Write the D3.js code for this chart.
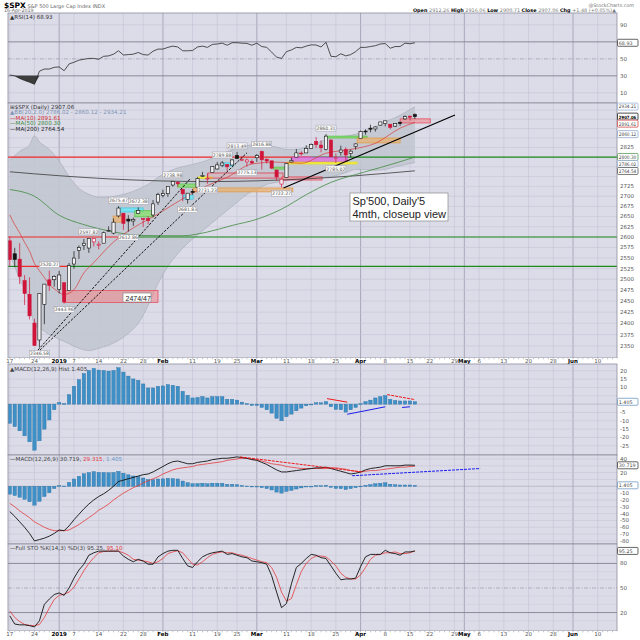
<!DOCTYPE html>
<html>
<head>
<meta charset="utf-8">
<script src="https://cdn.jsdelivr.net/npm/d3@7/dist/d3.min.js"></script>
<style>
  body { margin: 0; background: #fff; }
  svg { display: block; }
</style>
</head>
<body>
<div id="chart"></div>
<script>
// ---- data: $SPX daily, 17 Dec 2018 .. 16 Apr 2019 ----
const holidays = ["2018-12-25", "2019-01-01", "2019-01-21", "2019-02-18", "2019-04-19", "2019-05-27"];
const prevClose = 2599.95;

const opens = [2590.75,2559.90,2547.05,2496.77,2465.38,2400.56,2363.12,2442.50,2498.77,2498.94,
  2476.96,2491.92,2474.33,2535.61,2568.11,2580.00,2573.51,2588.11,2580.31,2585.10,
  2614.75,2609.28,2651.27,2657.88,2643.48,2638.84,2657.44,2644.97,2644.89,2653.62,
  2685.49,2702.32,2706.49,2728.34,2735.05,2717.53,2692.36,2712.40,2722.61,2750.30,
  2743.50,2760.24,2769.28,2779.05,2780.67,2779.50,2804.35,2792.36,2787.50,2788.11,
  2798.22,2814.37,2794.41,2790.27,2766.53,2730.79,2747.61,2787.34,2799.78,2810.38,
  2810.79,2822.61,2840.76,2831.34,2819.72,2844.52,2796.01,2812.66,2819.72,2809.40,
  2828.27,2848.63,2868.24,2876.09,2873.99,2884.16,2888.46,2886.58,2881.37,2891.92,
  2900.86,2908.32,2912.26];
const highs = [2601.13,2573.99,2585.29,2509.63,2504.41,2410.34,2467.76,2489.10,2520.27,2509.24,
  2519.49,2493.14,2538.07,2566.16,2579.82,2595.32,2597.82,2596.27,2589.32,2613.08,
  2625.76,2645.06,2675.47,2657.88,2653.19,2647.20,2672.38,2644.97,2650.93,2690.44,
  2708.95,2716.66,2724.99,2738.98,2738.08,2719.32,2708.07,2718.05,2748.19,2761.85,
  2757.90,2775.66,2787.33,2789.88,2781.58,2794.20,2813.49,2803.12,2795.76,2793.73,
  2808.02,2816.88,2796.44,2790.27,2767.25,2744.13,2784.00,2798.32,2821.24,2815.00,
  2830.73,2835.41,2852.42,2843.54,2860.31,2846.16,2809.79,2829.87,2825.56,2819.71,
  2836.03,2869.40,2872.90,2885.25,2881.28,2893.24,2895.95,2886.88,2889.71,2893.42,
  2910.54,2909.60,2916.06];
const lows = [2530.54,2528.71,2488.96,2441.18,2408.55,2351.10,2346.58,2397.94,2472.89,2482.82,
  2467.47,2443.96,2474.33,2524.56,2547.56,2568.89,2562.02,2577.40,2570.41,2585.10,
  2612.68,2606.36,2647.58,2617.27,2612.86,2627.01,2657.33,2624.06,2631.05,2648.34,
  2678.65,2696.88,2698.75,2724.03,2724.15,2687.26,2681.83,2703.79,2722.61,2748.63,
  2731.23,2760.24,2767.29,2774.06,2764.55,2779.11,2794.99,2789.47,2775.13,2782.51,
  2787.38,2767.66,2782.97,2768.69,2739.09,2722.27,2747.61,2786.73,2799.78,2803.46,
  2810.79,2821.99,2823.27,2812.43,2817.38,2800.47,2785.02,2803.99,2787.72,2798.77,
  2819.23,2848.63,2858.75,2865.17,2867.14,2882.99,2880.78,2873.33,2879.13,2881.99,
  2898.37,2896.48,2900.71];
const closes = [2545.94,2546.16,2506.96,2467.42,2416.62,2351.10,2467.70,2488.83,2485.74,2506.85,
  2510.03,2447.89,2531.94,2549.69,2574.41,2584.96,2596.64,2596.26,2582.61,2610.30,
  2616.10,2635.96,2670.71,2632.90,2638.70,2642.33,2664.76,2643.85,2640.00,2681.05,
  2704.10,2706.53,2724.87,2737.70,2731.61,2706.05,2707.88,2709.80,2744.73,2753.03,
  2745.73,2775.60,2779.76,2784.70,2774.88,2792.67,2796.11,2793.90,2792.38,2784.49,
  2803.69,2792.81,2789.65,2771.45,2748.93,2743.07,2783.30,2791.52,2810.92,2808.48,
  2822.48,2832.94,2832.57,2824.23,2854.88,2800.71,2798.36,2818.46,2805.37,2815.44,
  2834.40,2867.19,2867.24,2873.40,2879.39,2892.74,2895.77,2878.20,2888.21,2888.32,
  2907.41,2905.58,2907.06];

// overlays (session index -> value)
const bbDays = [0,2,4,5,6,8,10,12,14,16,18,20,22,24,26,28,30,32,34,36,38,40,42,44,46,48,50,52,54,56,58,60,62,64,66,68,70,72,74,76,78,80,82];
const bbUpper = [2792,2815,2832,2856,2840,2820,2790,2750,2720,2705,2698,2698,2702,2708,2718,2730,2748,2762,2772,2778,2784,2792,2804,2814,2824,2830,2833,2830,2826,2820,2820,2826,2836,2846,2852,2855,2860,2870,2880,2893,2904,2918,2934.21];
const bbLower = [2560,2500,2448,2396,2390,2375,2365,2355,2345,2340,2345,2352,2362,2378,2400,2440,2490,2530,2560,2585,2605,2625,2645,2665,2685,2705,2718,2730,2735,2740,2744,2746,2746,2748,2752,2760,2768,2768,2766,2768,2775,2780,2786.02];
const ma10Days = [0,1,2,3,4,5,6,7,8,9,11,13,15,17,21,25,30,35,40,44,49,54,59,64,69,74,79,82];
const ma10 = [2654,2630,2610,2587,2566,2537,2520,2504,2488,2478,2465,2476,2515,2539,2588,2622,2656,2694,2727,2748,2782,2787,2784,2810,2820,2836,2876,2891.61];
const ma50Days = [0,5,10,15,20,25,30,35,40,45,50,55,60,65,70,75,80,82];
const ma50 = [2717,2700,2653,2630,2615,2605,2603,2603,2612,2628,2643,2668,2704,2735,2755,2773,2792,2800.30];
const ma200Days = [0,10,20,30,40,50,60,70,82];
const ma200 = [2762,2752,2744,2739,2737,2739,2744,2752,2764.54];

const rsiVals = [31,30,27,24.5,22.5,20,35.5,38,38,40,40.5,36,44,46,48.5,49.5,50.5,50.5,49.5,53,
  53.5,55.5,59.5,54.5,55,55.5,57.5,55,54.5,59,61.5,61.5,63.5,65,64,59.5,59.5,59.8,64,65,
  63.5,67,67.5,68.5,66,69,69,68.5,68.2,66,68.5,64.5,63.5,58,52,50.5,58.5,60.5,63.5,63,
  65,66.5,66.3,64,69.5,53,52.5,56,53.5,55,58.5,63.5,63.5,64.5,65.5,67.5,68,62.5,64.5,64.5,
  68.5,67.8,68.93];
const macdLine = [-37,-44,-52,-60,-69,-80,-78,-76,-73,-69,-64,-65,-58,-49,-41,-33,-26,-20,-15,-11,
  -6,0,7,9,11,13,15,17,18,21,25,29,33,36,37,35,33,33,35,36,
  37,39,40,41,41,42,43,42,41,39,38,35,32,28,24,21,21,22,23,24,
  25,26,27,27,28,26,24,22,20,18,19,21,24,26,27,28,30,30,30,30,
  31,31,30.719];
const macdSignal = [-25,-30,-36,-41,-46,-52,-56,-60,-63,-65,-65,-65,-64,-60,-56,-51,-46,-41,-35,-31,
  -26,-20,-15,-10,-6,-2,1,5,8,11,14,18,21,24,26,27,28,29,31,32,
  33,34,35,36,38,39,40,41,41,40,39,37,35,33,32,31,29,28,27,26,
  26,26,26,26,26,27,27,26,25,23,22,21,22,23,23,24,25,26,27,28,
  28,29,29.315];
const macdHist = [-11.5,-13.5,-16,-19,-22.6,-27.6,-22,-15,-9.5,-3.4,1,0.3,5.7,10.7,14.7,18.4,20.2,21.4,20.4,20.2,
  19.8,20.2,21.8,19.2,16.8,15.1,14.3,12.1,9.7,9.7,10.7,10.9,11.7,11.3,10.7,7.7,5.3,3.7,4,4.5,
  3.7,4.5,4.5,4.5,2.9,2.9,2.4,1.2,0.3,-0.8,-0.8,-2,-3.4,-5.4,-8.5,-10,-7.5,-6,-4,-2.4,
  -1,-0.1,0.8,0.8,1.5,-1.6,-3.2,-3.4,-4.8,-3.4,-2,0.2,1.5,2.4,3.7,4.5,5.1,2.9,2.2,1.9,
  1.9,1.9,1.405];
const stoK = [16,6,5,5,4,2.5,10,30,36.5,42,44,41,50,62,72,79,90,93,95,95,
  95,95,95,89,85,82,85,83,79,79,88,92,95,96,96,86,77,75,82,88,
  91,93,94,95,91,92,90,88,87,83,82,81,79,65,45,26,31,55,75,80,
  86,91,90,87,86,77,68,60,61,61,62,76,88,91,91,91,96,93,92,90,
  94,94,95.25];
const stoD = [22,14,9,5.5,4.5,4,5.5,14,25.5,36,41,42.5,45,51,61,71,80,87,93,94.5,
  95,95,95,93,90,85,84,83,82,80,82,86,92,94,95.5,93,86,79,78,82,
  87,91,93,94,93,93,91,90,88,86,84,82,81,75,63,45,34,37,54,70,
  80,86,89,89,88,83,77,68,63,61,61,66,75,85,90,91,93,93,94,92,
  92,93,95.1];

// hand-drawn annotations
const levelPrices = [2800, 2600, 2530];
const redSegFrom = [-0.4, -0.4, 2];
const redSegTo = [61, 25, 12.2];
const zoneFrom = [11.2, 21.9, 20.9, 25.3, 34, 35.1, 37.1, 38.1, 40.1, 43.2, 57.1, 56.1, 53.3, 55.1, 63.8, 70.3, 79];
const zoneTo = [30, 27, 23.3, 29, 37.9, 37.1, 57.3, 41, 55.3, 45.2, 68.3, 70.3, 56.3, 63.2, 72.3, 79, 85.1];
const zoneLow = [2447, 2661, 2636, 2649, 2723, 2693, 2711, 2746, 2746, 2777, 2787, 2782, 2769, 2741, 2850, 2837, 2890];
const zoneHigh = [2474, 2671, 2651, 2664, 2731, 2703, 2721, 2749, 2759, 2785, 2800, 2787, 2774, 2749, 2855, 2850, 2901];
const zoneKind = ["red","cyan","orange","green","green","cyan","orange","yellow","redline","cyan","magenta","yellow","green","red","green","orange","red"];
const trendFrom = [5.7, 6.1, 55.4];
const trendFromPrice = [2341, 2341, 2721];
const trendTo = [36.5, 48, 90.1];
const trendToPrice = [2744, 2811, 2911.5];
const trendDashed = [true, true, false];
const tagDay = [6, 11, 8, 16, 22, 26, 24, 33, 36, 43, 46, 51, 40, 48, 55, 64, 66];
const tagPrice = [2346.58, 2443.96, 2520.27, 2597.82, 2675.47, 2672.38, 2612.86, 2738.98, 2681.83, 2789.88, 2813.49, 2816.88, 2731.23, 2775.13, 2722.27, 2860.31, 2785.02];
const tagSide = ["below","below","above","above","above","above","below","above","below","above","above","above","below","below","below","above","below"];
const m1From = [64.2, 68.3, 76.4, 79.4], m1FromVal = [3.3, -6.1, 5.7, -2];
const m1To = [68.3, 76, 82, 81], m1ToVal = [1.2, -1.6, 2.7, -1.6];
const m1Kind = ["red", "blue", "reddash", "blue"];
const m2From = [46.6, 69.3], m2FromVal = [43, 15.4];
const m2To = [71.3, 95.2], m2ToVal = [21, 26];
const m2Kind = ["reddash", "bluedash"];

const tickDates = ["2018-12-17","2018-12-24","2019-01-02","2019-01-07","2019-01-14","2019-01-22","2019-01-28","2019-02-01","2019-02-11","2019-02-19","2019-02-25","2019-03-01","2019-03-11","2019-03-18","2019-03-25","2019-04-01","2019-04-08","2019-04-15","2019-04-22","2019-04-29","2019-05-01","2019-05-06","2019-05-13","2019-05-20","2019-05-28","2019-06-03","2019-06-10"];
const tickLabels = ["17","24","2019","7","14","22","28","Feb","11","19","25","Mar","11","18","25","Apr","8","15","22","29","May","6","13","20","28","Jun","10"];
const monthLabels = ["2019","Feb","Mar","Apr","May","Jun"];

// ---- layout ----
const W = 640, H = 640, L = 8, R = 617;
const BG = "#dcdce9";
const P = {
  rsi: { top: 13, bottom: 103 },
  main: { top: 103, bottom: 358 },
  macd: { top: 364, bottom: 455 },
  macd2: { top: 455, bottom: 544 },
  sto: { top: 544, bottom: 631 }
};

const svg = d3.select("#chart").append("svg")
  .attr("width", W).attr("height", H)
  .style("font-family", "'DejaVu Sans', Verdana, sans-serif");

const fmtDay = d3.utcFormat("%Y-%m-%d");
const sessions = d3.utcDays(new Date(Date.UTC(2018, 11, 17)), new Date(Date.UTC(2019, 5, 15)))
  .filter(d => d.getUTCDay() !== 0 && d.getUTCDay() !== 6)
  .map(fmtDay)
  .filter(s => !holidays.includes(s));
const dayIndex = new Map(sessions.map((s, i) => [s, i]));

const x = d3.scaleLinear().domain([-0.36, 122.9]).range([L, R]);

function hline(g, y, color, w, dash, x1, x2) {
  g.append("line")
    .attr("x1", x1 === undefined ? L : x1).attr("x2", x2 === undefined ? R : x2)
    .attr("y1", y).attr("y2", y)
    .attr("stroke", color).attr("stroke-width", w)
    .attr("stroke-dasharray", dash || null);
}

function drawPanel(p, id) {
  svg.append("clipPath").attr("id", id).append("rect")
    .attr("x", L).attr("y", p.top).attr("width", R - L).attr("height", p.bottom - p.top);
  svg.append("rect").attr("x", L).attr("y", p.top).attr("width", R - L)
    .attr("height", p.bottom - p.top).attr("fill", BG);
  const g = svg.append("g").attr("clip-path", `url(#${id})`);
  tickDates.forEach((d, k) => {
    const xx = x(dayIndex.get(d));
    const isMonth = monthLabels.includes(tickLabels[k]);
    g.append("line").attr("x1", xx).attr("x2", xx).attr("y1", p.top).attr("y2", p.bottom)
      .attr("stroke", isMonth ? "#a2a2b4" : "#c3c3d3").attr("stroke-width", isMonth ? 0.9 : 0.6);
  });
  return g;
}

function border(p) {
  svg.append("rect").attr("x", L).attr("y", p.top).attr("width", R - L)
    .attr("height", p.bottom - p.top).attr("fill", "none")
    .attr("stroke", "#8c8c9c").attr("stroke-width", 0.8);
}

// value boxes first work out their places, then axis labels skip what a box covers
function placeBoxes(items) {
  items.sort((a, b) => a.y - b.y);
  let last = -1e9;
  items.forEach(it => { it.yy = Math.max(it.y, last + 7); last = it.yy; });
  return items;
}

function axisLabels(y, values, boxes) {
  values.forEach(v => {
    const yy = y(v);
    if (boxes.some(b => Math.abs(b.yy - yy) < 6)) return;
    svg.append("text").attr("x", 620).attr("y", yy + 2)
      .attr("font-size", 5.5).attr("fill", "#555").text(v);
  });
}

function drawBoxes(items) {
  items.forEach(it => {
    svg.append("rect").attr("x", 617.5).attr("y", it.yy - 3.5).attr("width", 20.5).attr("height", 7)
      .attr("fill", "#fff").attr("stroke", it.color).attr("stroke-width", 0.7).attr("rx", 1);
    const t = svg.append("text").attr("x", 618.8).attr("y", it.yy + 1.9)
      .attr("font-size", it.bold ? 4.4 : 4.8)
      .attr("font-weight", it.bold ? "bold" : null)
      .attr("fill", it.bold ? "#000" : "#444").text(it.text);
    if (it.text.length > 6) t.attr("textLength", 17.5).attr("lengthAdjust", "spacingAndGlyphs");
  });
}

function rightAxis(y, values, items) {
  const boxes = placeBoxes(items);
  axisLabels(y, values, boxes);
  drawBoxes(boxes);
}

function dateAxis(top) {
  svg.append("rect").attr("x", L).attr("y", top).attr("width", R - L).attr("height", 6).attr("fill", "#fff");
  sessions.forEach((s, i) => {
    if (x(i) < L || x(i) > R) return;
    svg.append("line").attr("x1", x(i)).attr("x2", x(i)).attr("y1", top).attr("y2", top + 1.3)
      .attr("stroke", "#888").attr("stroke-width", 0.5);
  });
  tickDates.forEach((d, k) => {
    const isMonth = monthLabels.includes(tickLabels[k]);
    svg.append("text").attr("x", x(dayIndex.get(d))).attr("y", top + 5.3)
      .attr("text-anchor", "middle").attr("font-size", 5.5)
      .attr("font-weight", isMonth ? "bold" : null)
      .attr("fill", isMonth ? "#000" : "#555").text(tickLabels[k]);
  });
}

function legend(y, parts) {
  const t = svg.append("text").attr("x", 10).attr("y", y).attr("font-size", 5.6);
  parts.forEach(p => t.append("tspan").attr("fill", p[1]).attr("font-weight", p[2] ? "bold" : null).text(p[0]));
}

// ---- header ----
const h1 = svg.append("text").attr("x", 4).attr("y", 7.5);
h1.append("tspan").attr("font-size", 7.5).attr("font-weight", "bold").attr("fill", "#000").text("$SPX");
h1.append("tspan").attr("font-size", 5).attr("fill", "#666").text(" S&P 500 Large Cap Index INDX");
svg.append("text").attr("x", 4).attr("y", 12.3).attr("font-size", 4.8).attr("fill", "#666").text("16-Apr-2019");
svg.append("text").attr("x", 634).attr("y", 6.5).attr("text-anchor", "end").attr("font-size", 4.8)
  .attr("fill", "#777").text("@StockCharts.com");
const h2 = svg.append("text").attr("x", 616).attr("y", 12.3).attr("text-anchor", "end").attr("font-size", 4.9);
[["Open ", true], ["2912.26 ", false], ["High ", true], ["2916.06 ", false], ["Low ", true], ["2900.71 ", false],
 ["Close ", true], ["2907.06 ", false], ["Chg ", true], ["+1.48 (+0.05%)\u25B2", false]]
  .forEach(p => h2.append("tspan").attr("font-weight", p[1] ? "bold" : null).attr("fill", p[1] ? "#000" : "#777").text(p[0]));

// ---- RSI panel ----
const rsiY = d3.scaleLinear().domain([-2, 104]).range([P.rsi.bottom, P.rsi.top]);
const gR = drawPanel(P.rsi, "clipRsi");
[90, 10].forEach(v => hline(gR, rsiY(v), "#c3c3d3", 0.6));
hline(gR, rsiY(50), "#9a9aaa", 0.7, "4,1.5,1,1.5");
[70, 30].forEach(v => hline(gR, rsiY(v), "#8a8a9a", 1));
const rsiPts = rsiVals.map((v, i) => [i, v]);
gR.append("path").datum(rsiPts)
  .attr("d", d3.area().x(d => x(d[0])).y0(rsiY(30)).y1(d => rsiY(Math.min(d[1], 30))))
  .attr("fill", "#3c3c3c");
gR.append("path").datum(rsiPts)
  .attr("d", d3.line().x(d => x(d[0])).y(d => rsiY(d[1])))
  .attr("fill", "none").attr("stroke", "#2a2a2a").attr("stroke-width", 0.8);
border(P.rsi);
legend(19, [["\u25B2RSI(14) 68.93", "#333"]]);
rightAxis(rsiY, [90, 70, 50, 30, 10], [{ y: rsiY(68.93), text: "68.93", color: "#222" }]);

// ---- price panel ----
const priceY = d3.scaleLog().domain([2324, 2944]).range([P.main.bottom, P.main.top]);
const gM = drawPanel(P.main, "clipMain");
const priceTicks = d3.range(2350, 2926, 25);
priceTicks.forEach(v => hline(gM, priceY(v), "#c5c5d5", 0.6));

const bb = bbDays.map((d, k) => ({ i: d, lo: bbLower[k], hi: bbUpper[k] }));
gM.append("path").datum(bb)
  .attr("d", d3.area().x(d => x(d.i)).y0(d => priceY(d.lo)).y1(d => priceY(d.hi)).curve(d3.curveMonotoneX))
  .attr("fill", "#c2c7d0").attr("fill-opacity", 0.92);
["lo", "hi"].forEach(k => gM.append("path").datum(bb)
  .attr("d", d3.line().x(d => x(d.i)).y(d => priceY(d[k])).curve(d3.curveMonotoneX))
  .attr("fill", "none").attr("stroke", "#a4aab5").attr("stroke-width", 0.6));

// horizontal levels: red on the drawn stretch, green elsewhere
levelPrices.forEach((p, k) => {
  const yy = priceY(p), a = x(redSegFrom[k]), b = x(redSegTo[k]);
  if (a > L) hline(gM, yy, "#1c8a1c", 1.2, null, L, a);
  hline(gM, yy, "#1c8a1c", 1.2, null, b, R);
  hline(gM, yy, "#f02828", 1.2, null, a, b);
});

// shaded zones
const zoneStyle = {
  red: { fill: "#f08a90", op: 0.6, stroke: "#e84050" },
  redline: { fill: "#e8a0a8", op: 0.35, stroke: "#e02a3a" },
  cyan: { fill: "#70e4f4", op: 0.85, stroke: "#38c8e0" },
  orange: { fill: "#e8b070", op: 0.75, stroke: "#e09a40" },
  green: { fill: "#8ae070", op: 0.8, stroke: "#4cc03a" },
  yellow: { fill: "#f4f040", op: 0.95, stroke: "#e4de20" },
  magenta: { fill: "#e070e0", op: 0.8, stroke: "#c848c8" }
};
zoneFrom.forEach((f, k) => {
  const s = zoneStyle[zoneKind[k]];
  gM.append("rect").attr("x", x(f)).attr("width", x(zoneTo[k]) - x(f))
    .attr("y", priceY(zoneHigh[k])).attr("height", Math.max(1.5, priceY(zoneLow[k]) - priceY(zoneHigh[k])))
    .attr("fill", s.fill).attr("fill-opacity", s.op).attr("stroke", s.stroke).attr("stroke-width", 0.7);
});

// moving averages
function maLine(days, vals, color, w) {
  gM.append("path").datum(days.map((d, k) => [d, vals[k]]))
    .attr("d", d3.line().x(d => x(d[0])).y(d => priceY(d[1])).curve(d3.curveMonotoneX))
    .attr("fill", "none").attr("stroke", color).attr("stroke-width", w);
}
maLine(ma200Days, ma200, "#3a3a3a", 0.8);
maLine(ma50Days, ma50, "#3f8a3f", 0.8);
maLine(ma10Days, ma10, "#d83a3a", 0.7);

// candles
closes.forEach((c, i) => {
  const o = opens[i];
  const prev = i === 0 ? prevClose : closes[i - 1];
  const col = c >= prev ? "#111" : "#d0143a";
  const hollow = c >= o;
  const cx = x(i);
  gM.append("line").attr("x1", cx).attr("x2", cx).attr("y1", priceY(highs[i])).attr("y2", priceY(lows[i]))
    .attr("stroke", col).attr("stroke-width", 0.7);
  const yTop = priceY(Math.max(o, c)), yBot = priceY(Math.min(o, c));
  gM.append("rect").attr("x", cx - 1.6).attr("width", 3.2)
    .attr("y", yTop).attr("height", Math.max(0.8, yBot - yTop))
    .attr("fill", hollow ? "#f2f2f4" : col).attr("stroke", col).attr("stroke-width", 0.6);
});

// trend lines
trendFrom.forEach((f, k) => {
  gM.append("line").attr("x1", x(f)).attr("y1", priceY(trendFromPrice[k]))
    .attr("x2", x(trendTo[k])).attr("y2", priceY(trendToPrice[k]))
    .attr("stroke", "#000").attr("stroke-width", trendDashed[k] ? 0.9 : 1.2)
    .attr("stroke-dasharray", trendDashed[k] ? "2.5,1.4" : null);
});

// price tags
tagDay.forEach((d, k) => {
  const cx = x(d);
  const above = tagSide[k] === "above";
  const yy = above ? priceY(tagPrice[k]) - 9 : priceY(tagPrice[k]) + 3;
  gM.append("rect").attr("x", cx - 10).attr("y", yy).attr("width", 20).attr("height", 6)
    .attr("fill", "#fbfbfb").attr("stroke", "#9a9aa6").attr("stroke-width", 0.5);
  gM.append("text").attr("x", cx).attr("y", yy + 4.7).attr("text-anchor", "middle")
    .attr("font-size", 4.6).attr("fill", "#555").text(tagPrice[k].toFixed(2));
});

// notes
function note(x0, y0, w, h, lines, size) {
  svg.append("rect").attr("x", x0).attr("y", y0).attr("width", w).attr("height", h)
    .attr("fill", "#fff").attr("stroke", "#8a8a8a").attr("stroke-width", 0.7);
  lines.forEach((t, k) => svg.append("text").attr("x", x0 + 2.5).attr("y", y0 + size + 1 + k * (size + 1.5))
    .attr("font-family", "'Liberation Sans', Arial, sans-serif")
    .attr("font-size", size).attr("fill", "#222").text(t));
}
note(350, 193, 98, 28, ["Sp'500, Daily'5", "4mth, closeup view"], 11);
note(123, 293, 28, 9, ["2474/47"], 7);

border(P.main);
legend(108.5, [["\u229E$SPX (Daily) 2907.06", "#333"]]);
legend(114, [["\u25B2BB(20,2.0) 2786.02 - 2860.12 - 2934.21", "#7f93b2"]]);
legend(119.5, [["\u2014MA(10) 2891.61", "#d03030"]]);
legend(125, [["\u2014MA(50) 2800.30", "#3f8a3f"]]);
legend(130.5, [["\u2014MA(200) 2764.54", "#222"]]);
rightAxis(priceY, priceTicks.slice().reverse(), [
  { y: priceY(2934.21), text: "2934.21", color: "#8aa8d0" },
  { y: priceY(2907.06), text: "2907.06", color: "#000", bold: true },
  { y: priceY(2891.61), text: "2891.61", color: "#d03030" },
  { y: priceY(2860.12), text: "2860.12", color: "#7f9cc8" },
  { y: priceY(2800.30), text: "2800.30", color: "#3f8a3f" },
  { y: priceY(2786.02), text: "2786.02", color: "#8aa8d0" },
  { y: priceY(2764.54), text: "2764.54", color: "#444" }
]);

dateAxis(358);

// ---- MACD histogram panel ----
const m1Y = d3.scaleLinear().domain([-30.5, 24.05]).range([P.macd.bottom, P.macd.top]);
const gH = drawPanel(P.macd, "clipMacd");
d3.range(-25, 21, 5).forEach(v => hline(gH, m1Y(v), v === 0 ? "#a6a6b6" : "#c5c5d5", 0.6));
macdHist.forEach((v, i) => {
  gH.append("rect").attr("x", x(i) - 1.7).attr("width", 3.4)
    .attr("y", Math.min(m1Y(v), m1Y(0))).attr("height", Math.max(0.8, Math.abs(m1Y(v) - m1Y(0))))
    .attr("fill", "#3f90c6").attr("stroke", "#2a72a6").attr("stroke-width", 0.4);
});
const lineStyle = {
  red: { c: "#f01818", d: null }, reddash: { c: "#f01818", d: "3,1" },
  blue: { c: "#1c1cf0", d: null }, bluedash: { c: "#1c1cf0", d: "3,1" }
};
m1From.forEach((f, k) => {
  const s = lineStyle[m1Kind[k]];
  gH.append("line").attr("x1", x(f)).attr("y1", m1Y(m1FromVal[k])).attr("x2", x(m1To[k])).attr("y2", m1Y(m1ToVal[k]))
    .attr("stroke", s.c).attr("stroke-width", 1).attr("stroke-dasharray", s.d);
});
border(P.macd);
legend(370.5, [["\u25B2MACD(12,26,9) Hist 1.405", "#444"]]);
rightAxis(m1Y, [20, 15, 10, 5, 0, -5, -10, -15, -20, -25], [{ y: m1Y(1.405), text: "1.405", color: "#5a8ab8" }]);

// ---- MACD lines panel ----
const m2Y = d3.scaleLinear().domain([-84.5, 45.8]).range([P.macd2.bottom, P.macd2.top]);
const gD = drawPanel(P.macd2, "clipMacd2");
d3.range(-80, 41, 10).forEach(v => hline(gD, m2Y(v), v === 0 ? "#a6a6b6" : "#c5c5d5", 0.6));
macdHist.forEach((v, i) => {
  gD.append("rect").attr("x", x(i) - 1.7).attr("width", 3.4)
    .attr("y", Math.min(m2Y(v), m2Y(0))).attr("height", Math.max(0.7, Math.abs(m2Y(v) - m2Y(0))))
    .attr("fill", "#3f90c6").attr("stroke", "#2a72a6").attr("stroke-width", 0.4);
});
gD.append("path").datum(macdSignal)
  .attr("d", d3.line().x((d, i) => x(i)).y(d => m2Y(d)))
  .attr("fill", "none").attr("stroke", "#e43a3a").attr("stroke-width", 0.8);
gD.append("path").datum(macdLine)
  .attr("d", d3.line().x((d, i) => x(i)).y(d => m2Y(d)))
  .attr("fill", "none").attr("stroke", "#111").attr("stroke-width", 0.9);
m2From.forEach((f, k) => {
  const s = lineStyle[m2Kind[k]];
  gD.append("line").attr("x1", x(f)).attr("y1", m2Y(m2FromVal[k])).attr("x2", x(m2To[k])).attr("y2", m2Y(m2ToVal[k]))
    .attr("stroke", s.c).attr("stroke-width", 1).attr("stroke-dasharray", s.d);
});
border(P.macd2);
legend(460.5, [["\u2014MACD(12,26,9) 30.719, ", "#444"], ["29.315", "#e43a3a"], [", 1.405", "#6a9ac8"]]);
rightAxis(m2Y, [40, 30, 20, 10, 0, -10, -20, -30, -40, -50, -60, -70, -80], [
  { y: m2Y(30.719), text: "30.719", color: "#222" },
  { y: m2Y(1.405), text: "1.405", color: "#5a8ab8" }
]);

// ---- Full stochastics panel ----
const sY = d3.scaleLinear().domain([-2.5, 103.7]).range([P.sto.bottom, P.sto.top]);
const gS = drawPanel(P.sto, "clipSto");
[90, 70, 60, 40, 30, 10].forEach(v => hline(gS, sY(v), "#c9c9d8", 0.5));
hline(gS, sY(50), "#9a9aaa", 0.7, "4,1.5,1,1.5");
[80, 20].forEach(v => hline(gS, sY(v), "#8a8a9a", 1));
gS.append("path").datum(stoD)
  .attr("d", d3.line().x((d, i) => x(i)).y(d => sY(d)))
  .attr("fill", "none").attr("stroke", "#e43a3a").attr("stroke-width", 0.8);
gS.append("path").datum(stoK)
  .attr("d", d3.line().x((d, i) => x(i)).y(d => sY(d)))
  .attr("fill", "none").attr("stroke", "#111").attr("stroke-width", 0.9);
border(P.sto);
legend(549.5, [["\u2014Full STO %K(14,3) %D(3) 95.25, ", "#444"], ["95.10", "#e43a3a"]]);
rightAxis(sY, [80, 50, 20], [{ y: sY(95.25), text: "95.25", color: "#222" }]);

dateAxis(631);
</script>
</body>
</html>
